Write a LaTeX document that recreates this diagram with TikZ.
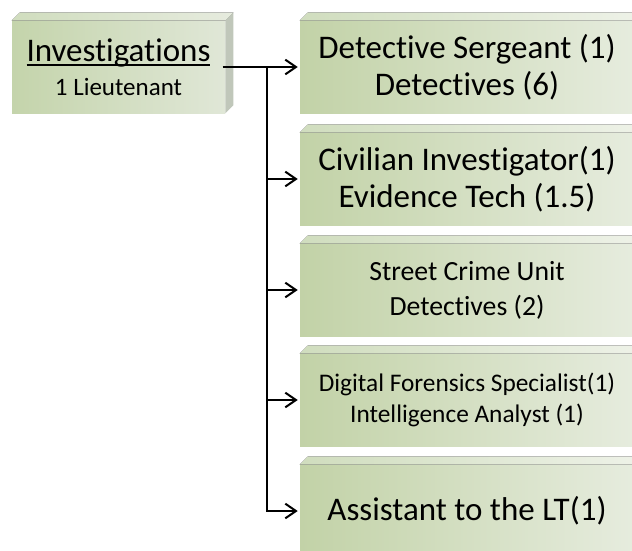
\documentclass[tikz,border=0pt]{standalone}
\usepackage{fontspec}
\setmainfont[Ligatures=NoCommon]{Carlito}
\usetikzlibrary{arrows.meta}
\definecolor{fl}{RGB}{194,210,167}
\definecolor{fr}{RGB}{230,236,222}
\definecolor{tl}{RGB}{208,221,190}
\definecolor{tr}{RGB}{238,242,232}
\definecolor{sd}{RGB}{192,199,186}
\newcommand\myul[1]{\setbox0\hbox{#1}\rlap{\rule[-3.75pt]{\wd0}{1.5pt}}\box0}
\newcommand\topface[1]{\fill[left color=tl,right color=tr] (#1.north west) -- ++(8,-8) -- ([shift={(8,-8)}]#1.north east) -- (#1.north east) -- cycle;}
\begin{document}
\begin{tikzpicture}[x=0.75pt,y=-0.75pt,
  front/.style={minimum height=69pt, inner sep=0pt, align=center, left color=fl, right color=fr, text=black},
  rbox/.style={front, minimum width=250.5pt},
  big/.style={font=\fontsize{24.75pt}{27.75pt}\selectfont},
  conn/.style={line width=1.5pt, -{Straight Barb[length=8pt,width=11pt]}, shorten >=1.5pt},
  trunk/.style={line width=1.5pt}
]
\useasboundingbox (0,0) rectangle (632,550);
\fill[white] (0,0) rectangle (632,550);
\clip (0,0) rectangle (632,550);

% left box
\node[front, minimum width=159.75pt, left color={rgb,255:red,196;green,212;blue,171}, right color={rgb,255:red,224;green,231;blue,215},
      font=\fontsize{24.75pt}{25.5pt}\selectfont] (inv) at (118.5,67)
  {\myul{Investigations}\\{\fontsize{18.75pt}{22pt}\selectfont 1 Lieutenant}};
\fill[left color=tl,right color={rgb,255:red,230;green,235;blue,222}] (inv.north west) -- ++(8,-8) -- ([shift={(8,-8)}]inv.north east) -- (inv.north east) -- cycle;
\fill[sd] (inv.north east) -- ++(8,-8) -- ([shift={(8,-8)}]inv.south east) -- (inv.south east) -- cycle;

% right boxes
\node[rbox, big] (b1) at (467,67) {Detective Sergeant (1)\\Detectives (6)};
\node[rbox, big] (b2) at (467,179) {Civilian Investigator(1)\\Evidence Tech (1.5)};
\node[rbox, font=\fontsize{20.8pt}{26.25pt}\selectfont] (b3) at (467,290) {Street Crime Unit\\Detectives (2)};
\node[rbox, font=\fontsize{19pt}{23.25pt}\selectfont] (b4) at (467,400) {Digital Forensics Specialist(1)\\Intelligence Analyst (1)};
\node[rbox, big] (b5) at (467,511) {Assistant to the LT(1)};
\topface{b1}\topface{b2}\topface{b3}\topface{b4}\topface{b5}

% connectors
\coordinate (j) at (267,67);
\draw[conn] ([xshift=-2pt]inv.east) -- (b1.west);
\draw[trunk] (j) -- (j |- b5.west);
\draw[conn] (j |- b2.west) -- (b2.west);
\draw[conn] (j |- b3.west) -- (b3.west);
\draw[conn] (j |- b4.west) -- (b4.west);
\draw[conn] ([yshift=0.75pt]j |- b5.west) |- (b5.west);
\end{tikzpicture}
\end{document}
